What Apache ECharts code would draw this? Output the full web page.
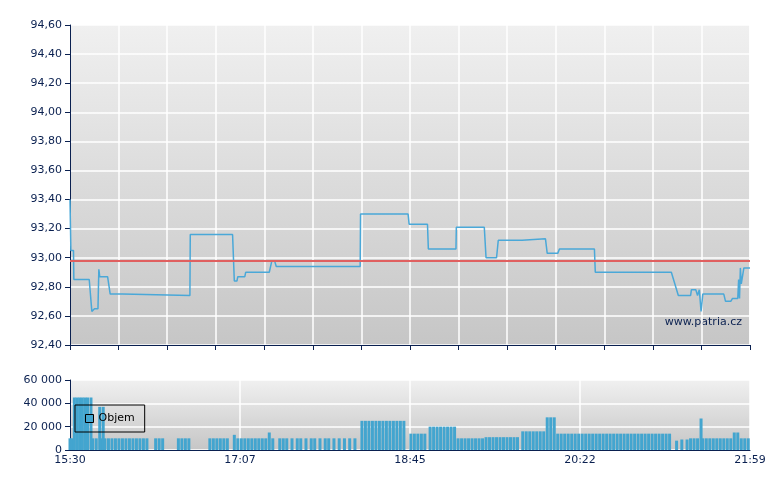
<!DOCTYPE html>
<html>
<head>
<meta charset="utf-8">
<script src="https://cdn.jsdelivr.net/npm/echarts@6/dist/echarts.min.js"></script>
<style>html,body{margin:0;padding:0;background:#fff}#main{width:780px;height:490px}</style>
</head>
<body>
<div id="main"></div>
<script>
// minutes from 15:30, price
var pricePts = [
    [0, 93.40], [0.5, 93.05], [2, 93.05], [2.2, 92.85], [11, 92.85], [12.5, 92.63], [13.5, 92.63],
    [14, 92.65], [16, 92.65], [16.5, 92.92], [17, 92.87], [21.5, 92.87], [23, 92.75], [30, 92.75],
    [30.5, 92.74], [68.6, 92.74], [68.8, 93.16], [93, 93.16], [94, 92.84], [95.5, 92.84],
    [96, 92.87], [100, 92.87], [100.5, 92.90], [114, 92.90], [115.5, 92.98], [117, 92.98],
    [118, 92.94], [166, 92.94], [166.2, 93.30], [193.4, 93.30], [194, 93.23], [204.5, 93.23],
    [205, 93.06], [220.8, 93.06], [221, 93.21], [237, 93.21], [238, 93.00], [244, 93.00],
    [245, 93.12], [258.6, 93.12], [259, 93.13], [272, 93.13], [273, 93.03], [279, 93.03],
    [280, 93.06], [300, 93.06], [300.5, 92.90], [344, 92.90], [348, 92.74], [355, 92.74],
    [355.5, 92.78], [358, 92.78], [359, 92.74], [360, 92.78], [361, 92.63], [362, 92.75],
    [374, 92.75], [375, 92.70], [378, 92.70], [379, 92.72], [382, 92.72], [382.5, 92.85],
    [383, 92.72], [383.5, 92.93], [384, 92.82], [385, 92.82], [385.5, 92.93], [389, 92.93]
];
var refPrice = 92.98;

// minutes from 15:30, volume
var volumePts = [
    [0, 10000], [1, 10000], [2.5, 45000], [4, 45000], [5.5, 45000], [7, 45000], [8.5, 45000], [10, 45000],
    [12, 45000], [13, 10000], [15, 10000], [17, 37000], [18, 10000], [19, 37000], [20, 10000],
    [22, 10000], [24, 10000], [26, 10000], [28, 10000], [30, 10000], [32, 10000], [34, 10000],
    [36, 10000], [38, 10000], [40, 10000], [42, 10000], [44, 10000], [49, 10000], [51, 10000],
    [53, 10000], [62, 10000], [64, 10000], [66, 10000], [68, 10000], [80, 10000], [82, 10000],
    [84, 10000], [86, 10000], [88, 10000], [90, 10000], [94, 13000], [96, 10000], [98, 10000],
    [100, 10000], [102, 10000], [104, 10000], [106, 10000], [108, 10000], [110, 10000],
    [112, 10000], [114, 15000], [116, 10000], [120, 10000], [122, 10000], [124, 10000],
    [127, 10000], [130, 10000], [132, 10000], [135, 10000], [138, 10000], [140, 10000],
    [143, 10000], [146, 10000], [148, 10000], [151, 10000], [154, 10000], [157, 10000],
    [160, 10000], [163, 10000], [167, 25000], [169, 25000], [171, 25000], [173, 25000],
    [175, 25000], [177, 25000], [179, 25000], [181, 25000], [183, 25000], [185, 25000],
    [187, 25000], [189, 25000], [191, 25000], [195, 14000], [197, 14000], [199, 14000],
    [201, 14000], [203, 14000], [206, 20000], [208, 20000], [210, 20000], [212, 20000],
    [214, 20000], [216, 20000], [218, 20000], [220, 20000], [222, 10000], [224, 10000],
    [226, 10000], [228, 10000], [230, 10000], [232, 10000], [234, 10000], [236, 10000],
    [238, 11000], [240, 11000], [242, 11000], [244, 11000], [246, 11000], [248, 11000],
    [250, 11000], [252, 11000], [254, 11000], [256, 11000], [259, 16000], [261, 16000],
    [263, 16000], [265, 16000], [267, 16000], [269, 16000], [271, 16000], [273, 28000],
    [275, 28000], [277, 28000], [279, 14000], [281, 14000], [283, 14000], [285, 14000],
    [287, 14000], [289, 14000], [291, 14000], [293, 14000], [295, 14000], [297, 14000],
    [299, 14000], [301, 14000], [303, 14000], [305, 14000], [307, 14000], [309, 14000],
    [311, 14000], [313, 14000], [315, 14000], [317, 14000], [319, 14000], [321, 14000],
    [323, 14000], [325, 14000], [327, 14000], [329, 14000], [331, 14000], [333, 14000],
    [335, 14000], [337, 14000], [339, 14000], [341, 14000], [343, 14000], [347, 8000],
    [350, 9000], [353, 9000], [355, 10000], [357, 10000], [359, 10000], [361, 27000],
    [362, 10000], [364, 10000], [366, 10000], [368, 10000], [370, 10000], [372, 10000],
    [374, 10000], [376, 10000], [378, 10000], [380, 15000], [382, 15000], [384, 10000],
    [386, 10000], [388, 10000]
];

var navy = '#0a2050';
function fmtTime(v) {
    var m = Math.round(930 + v);
    var h = Math.floor(m / 60), mm = m % 60;
    return h + ':' + (mm < 10 ? '0' : '') + mm;
}
function bg() {
    return new echarts.graphic.LinearGradient(0, 0, 0, 1, [
        {offset: 0, color: '#f0f0f0'}, {offset: 1, color: '#c6c6c6'}
    ]);
}

var myChart = echarts.init(document.getElementById('main'));
var option = {
    animation: false,
    grid: [
        {left: 70, right: 30, top: 25, height: 320, show: true, backgroundColor: bg(), borderWidth: 0},
        {left: 70, right: 30, top: 380, height: 70, show: true, backgroundColor: bg(), borderWidth: 0}
    ],
    xAxis: [
        {
            type: 'value', gridIndex: 0, min: 0, max: 389, interval: 389 / 14,
            axisLine: {lineStyle: {color: navy}}, axisTick: {lineStyle: {color: navy}, length: 5},
            axisLabel: {show: false}, splitLine: {lineStyle: {color: '#fff', width: 1.5}}
        },
        {
            type: 'value', gridIndex: 1, min: 0, max: 389, interval: 389 / 4,
            axisLine: {lineStyle: {color: navy}}, axisTick: {show: false},
            axisLabel: {color: navy, fontFamily: 'DejaVu Sans', fontSize: 11, formatter: fmtTime, margin: 5},
            splitLine: {lineStyle: {color: '#fff', width: 1.5}}
        }
    ],
    yAxis: [
        {
            type: 'value', gridIndex: 0, min: 92.4, max: 94.6, interval: 0.2,
            axisLine: {show: true, lineStyle: {color: navy}}, axisTick: {show: true, lineStyle: {color: navy}},
            axisLabel: {color: navy, fontFamily: 'DejaVu Sans', fontSize: 11,
                formatter: function (v) { return v.toFixed(2).replace('.', ','); }},
            splitLine: {lineStyle: {color: '#fff', width: 1.5}}
        },
        {
            type: 'value', gridIndex: 1, min: 0, max: 60000, interval: 20000,
            axisLine: {show: true, lineStyle: {color: navy}}, axisTick: {show: true, lineStyle: {color: navy}},
            axisLabel: {color: navy, fontFamily: 'DejaVu Sans', fontSize: 11,
                formatter: function (v) { return v === 0 ? '0' : (v / 1000) + ' 000'; }},
            splitLine: {lineStyle: {color: '#fff', width: 1.5}}
        }
    ],
    legend: {
        data: [{name: 'Objem', icon: 'rect'}],
        left: 75, top: 405, orient: 'vertical',
        backgroundColor: 'rgba(0,0,0,0)', borderColor: '#000', borderWidth: 1, padding: [8, 10],
        itemWidth: 8, itemHeight: 8,
        itemStyle: {borderColor: '#000', borderWidth: 1},
        textStyle: {color: '#000', fontFamily: 'DejaVu Sans', fontSize: 11}
    },
    graphic: [{
        type: 'text', right: 38, top: 317,
        style: {text: 'www.patria.cz', fill: navy, font: '11px DejaVu Sans'}
    }],
    series: [
        {
            name: 'Cena', type: 'line', xAxisIndex: 0, yAxisIndex: 0, data: pricePts,
            showSymbol: false, lineStyle: {color: '#4aa8d8', width: 1.5}, z: 3,
            markLine: {
                silent: true, symbol: 'none', label: {show: false},
                lineStyle: {color: '#e06060', width: 2, type: 'solid'},
                data: [{yAxis: refPrice}]
            }
        },
        {
            name: 'Objem', type: 'bar', xAxisIndex: 1, yAxisIndex: 1, data: volumePts,
            barWidth: 3, itemStyle: {color: '#43a5cf'}
        }
    ]
};
myChart.setOption(option);
window.onresize = function () {
    myChart.resize();
};
</script>
</body>
</html>
